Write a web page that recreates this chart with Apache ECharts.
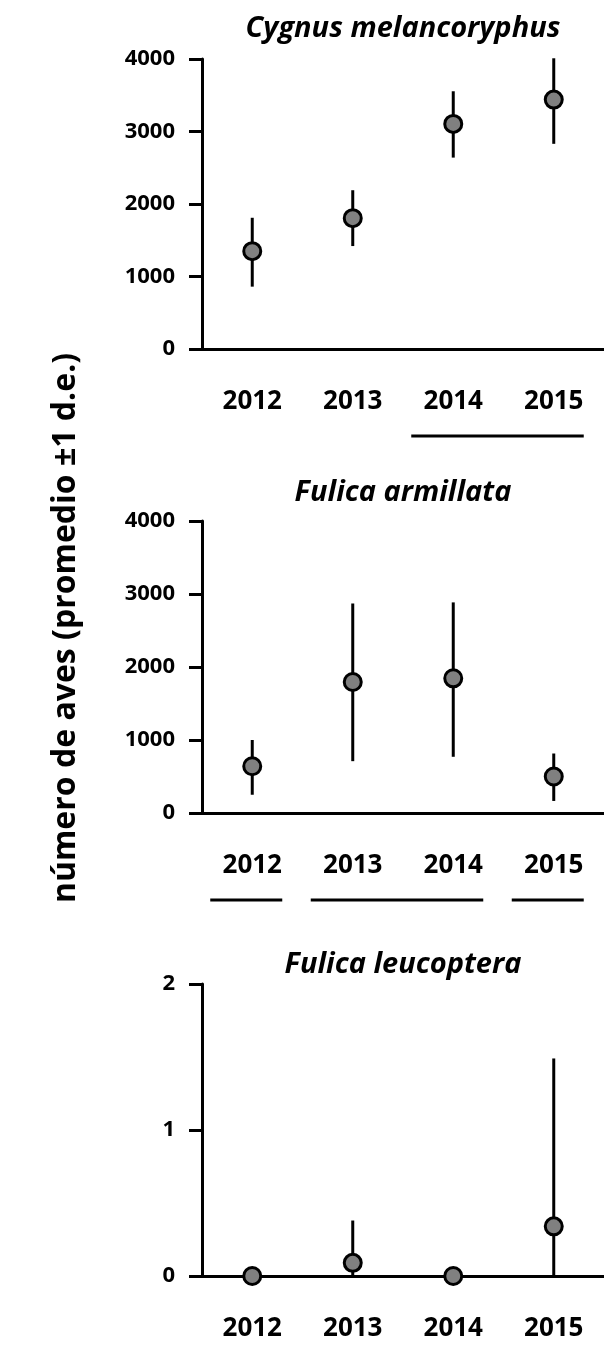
<!DOCTYPE html>
<html>
<head>
<meta charset="utf-8">
<script src="https://cdn.jsdelivr.net/npm/echarts@6/dist/echarts.min.js"></script>
<style>
  html, body { margin: 0; padding: 0; background: #fff; }
  #chart { width: 604px; height: 1358px; }
</style>
</head>
<body>
<div id="chart"></div>
<script>
// Survey years on the horizontal axis of every panel
const years = ['2012', '2013', '2014', '2015'];

// Species names (panel titles)
const speciesNames = ['Cygnus melancoryphus', 'Fulica armillata', 'Fulica leucoptera'];

// Mean number of birds per year and the ±1 s.d. range
const cygnusMean = [1350, 1805, 3105, 3440];
const cygnusLow  = [860, 1420, 2640, 2830];
const cygnusHigh = [1810, 2190, 3555, 4010];

const armillataMean = [640, 1795, 1845, 500];
const armillataLow  = [250, 710, 770, 165];
const armillataHigh = [1000, 2870, 2885, 815];

const leucopteraMean = [0, 0.09, 0, 0.34];
const leucopteraLow  = [0, 0, 0, 0];
const leucopteraHigh = [0, 0.38, 0, 1.49];

// Y-axis ranges: [max, interval]
const yRanges = [[4000, 1000], [4000, 1000], [2, 1]];

// Years that do not differ (groups joined by a line under the labels)
const cygnusGroups = [['2014', '2015']];
const armillataGroups = [['2012', '2012'], ['2013', '2014'], ['2015', '2015']];
const leucopteraGroups = [];

const yTitle = 'número de aves (promedio ±1 d.e.)';

const FONT = 'Open Sans';
const panels = [
  { mean: cygnusMean, low: cygnusLow, high: cygnusHigh, groups: cygnusGroups, top: 59, height: 290, titleY: 29 },
  { mean: armillataMean, low: armillataLow, high: armillataHigh, groups: armillataGroups, top: 521, height: 292, titleY: 493 },
  { mean: leucopteraMean, low: leucopteraLow, high: leucopteraHigh, groups: leucopteraGroups, top: 984, height: 292, titleY: 965 }
];

const axisLineStyle = { color: '#000', width: 3 };

const grids = [], xAxes = [], yAxes = [], series = [];
panels.forEach((p, i) => {
  grids.push({ left: 202, width: 404, top: p.top, height: p.height });
  xAxes.push({
    type: 'category', gridIndex: i, data: years, boundaryGap: true,
    axisLine: { lineStyle: axisLineStyle },
    axisTick: { alignWithLabel: true, length: 16, lineStyle: axisLineStyle },
    axisLabel: { margin: 40, color: '#000', fontFamily: FONT, fontWeight: 'bold', fontSize: 26 },
    splitLine: { show: false }
  });
  yAxes.push({
    type: 'value', gridIndex: i, min: 0, max: yRanges[i][0], interval: yRanges[i][1],
    axisLine: { show: true, lineStyle: axisLineStyle },
    axisTick: { show: true, length: 13, lineStyle: axisLineStyle },
    axisLabel: {
      margin: 27, color: '#000', fontFamily: FONT, fontWeight: 'bold', fontSize: 22,
      formatter: v => String(v)
    },
    splitLine: { show: false }
  });
  // vertical ±1 s.d. bars
  series.push({
    type: 'custom', xAxisIndex: i, yAxisIndex: i, z: 3,
    data: years.map((y, k) => [k, p.low[k], p.high[k]]),
    renderItem: (params, api) => {
      const a = api.coord([api.value(0), api.value(1)]);
      const b = api.coord([api.value(0), api.value(2)]);
      return {
        type: 'line',
        shape: { x1: a[0], y1: a[1], x2: b[0], y2: b[1] },
        style: { stroke: '#000', lineWidth: 3 }
      };
    }
  });
  // mean markers
  series.push({
    type: 'scatter', xAxisIndex: i, yAxisIndex: i, z: 4,
    data: years.map((y, k) => [k, p.mean[k]]),
    symbol: 'circle', symbolSize: 17,
    itemStyle: { color: '#808080', borderColor: '#000', borderWidth: 3, opacity: 1 },
    clip: false
  });
});

const chart = echarts.init(document.getElementById('chart'));
chart.setOption({
  animation: false,
  backgroundColor: '#fff',
  grid: grids, xAxis: xAxes, yAxis: yAxes, series: series
});

// titles, shared y-axis name and grouping lines
const graphics = [];
panels.forEach((p, i) => {
  graphics.push({
    type: 'text', x: 403, y: p.titleY,
    style: {
      text: speciesNames[i], align: 'center', verticalAlign: 'middle',
      font: 'italic bold 29px "' + FONT + '"', fill: '#000'
    }
  });
  const axisY = p.top + p.height;
  p.groups.forEach(g => {
    const x1 = chart.convertToPixel({ xAxisIndex: i }, g[0]) - 42;
    const x2 = chart.convertToPixel({ xAxisIndex: i }, g[1]) + 30;
    graphics.push({
      type: 'line',
      shape: { x1: x1, y1: axisY + 87, x2: x2, y2: axisY + 87 },
      style: { stroke: '#000', lineWidth: 3 }
    });
  });
});
graphics.push({
  type: 'text', x: 66, y: 628, rotation: Math.PI / 2,
  style: {
    text: yTitle, align: 'center', verticalAlign: 'middle',
    font: 'bold 32px "' + FONT + '"', fill: '#000'
  }
});
chart.setOption({ graphic: graphics });
</script>
</body>
</html>
